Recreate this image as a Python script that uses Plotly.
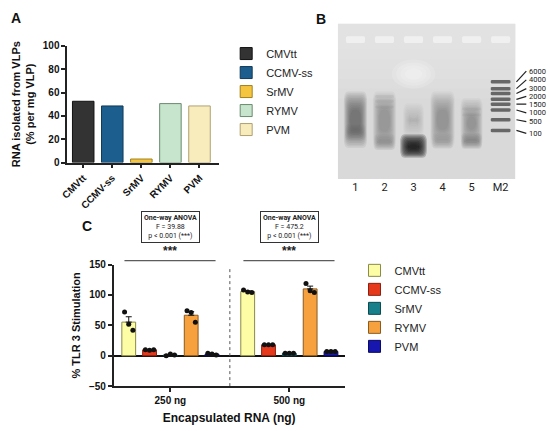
import numpy as np
import plotly.graph_objects as go

# ---------------- data ----------------
# Panel A
a_names = ["CMVtt", "CCMV-ss", "SrMV", "RYMV", "PVM"]
a_values = [52.5, 48.5, 3.0, 50.5, 48.5]
a_colors = ["#333333", "#1c5e8e", "#f5c53f", "#c6e5cc", "#f8ecbd"]
a_lines = ["#111111", "#123a58", "#a08020", "#6a8a70", "#b0a070"]

# Panel B (gel)
gel_lanes = ["1", "2", "3", "4", "5", "M2"]
ladder_sizes = ["6000", "4000", "3000", "2000", "1500", "1000", "500", "100"]
ladder_band_pos = [78, 85, 90, 96, 101, 107, 117, 128]
ladder_label_pos = [67, 76, 85, 93, 101, 110, 119, 131]

# Panel C
c_names = ["CMVtt", "CCMV-ss", "SrMV", "RYMV", "PVM"]
c_groups = ["250 ng", "500 ng"]
rep_250 = [[72, 52, 42], [10, 9, 10], [0, 3, 1], [74, 71, 55], [4, 3, 1]]
rep_500 = [[108, 105, 104], [18, 18, 18], [4, 4, 4], [119, 107, 104], [7, 7, 7]]
c_colors = ["#fdfda6", "#e6391c", "#17808a", "#f7a13e", "#1717b0"]
c_lines = ["#8a8a4a", "#8a2010", "#0b4a50", "#8a5a20", "#0a0a60"]
anova_F = ["39.88", "475.2"]

W, H = 550, 431
def px(x):
    return x / W
def py(y):
    return 1 - y / H

fig = go.Figure()

# ---------------- Panel A ----------------
for n, v, c, lc in zip(a_names, a_values, a_colors, a_lines):
    fig.add_trace(go.Bar(x=[n], y=[v], name=n, width=0.74,
                         marker=dict(color=c, line=dict(color=lc, width=1)),
                         xaxis="x", yaxis="y", legend="legend"))

# ---------------- Panel C ----------------
slot = 0.175
jit = [-0.035, 0.0, 0.035]
for i, (n, c, lc) in enumerate(zip(c_names, c_colors, c_lines)):
    reps = [rep_250[i], rep_500[i]]
    means = [float(np.mean(r)) for r in reps]
    sems = [float(np.std(r, ddof=1) / np.sqrt(len(r))) for r in reps]
    xs = [g + (i - 2) * slot for g in range(len(c_groups))]
    fig.add_trace(go.Bar(x=xs, y=means, name=n, width=0.116,
                         marker=dict(color=c, line=dict(color=lc, width=1)),
                         error_y=dict(type="data", array=sems, arrayminus=[0, 0],
                                      symmetric=False, color="#111", thickness=1, width=3),
                         xaxis="x2", yaxis="y2", legend="legend2"))
    dx, dy = [], []
    for g, r in enumerate(reps):
        for j, val in enumerate(r):
            dx.append(xs[g] + jit[j])
            dy.append(val)
    fig.add_trace(go.Scatter(x=dx, y=dy, mode="markers", showlegend=False,
                             marker=dict(color="#111", size=5),
                             xaxis="x2", yaxis="y2", hoverinfo="skip"))

# ---------------- Panel B (gel drawing) ----------------
fig.add_trace(go.Scatter(x=[1], y=[10], mode="markers", marker=dict(opacity=0),
                         showlegend=False, xaxis="x3", yaxis="y3", hoverinfo="skip"))

shapes = []
def rrect(x0, x1, y0, y1, rx, ry, color, op):
    p = (f"M{x0+rx},{y0} L{x1-rx},{y0} Q{x1},{y0} {x1},{y0+ry} L{x1},{y1-ry} "
         f"Q{x1},{y1} {x1-rx},{y1} L{x0+rx},{y1} Q{x0},{y1} {x0},{y1-ry} "
         f"L{x0},{y0+ry} Q{x0},{y0} {x0+rx},{y0} Z")
    shapes.append(dict(type="path", path=p, xref="x3", yref="y3",
                       fillcolor=color, opacity=op, line=dict(width=0)))

# background
shapes.append(dict(type="rect", xref="x3", yref="y3", x0=0.39, x1=6.51, y0=18, y1=178,
                   fillcolor="#d9d9d9", line=dict(width=0)))
for k in range(6):
    shapes.append(dict(type="rect", xref="x3", yref="y3", x0=0.39, x1=6.51, y0=18,
                       y1=95 - k * 10, fillcolor="#ececec", opacity=0.12, line=dict(width=0)))
# glow near lane 3
for r in [0.75, 0.6, 0.45, 0.3]:
    shapes.append(dict(type="circle", xref="x3", yref="y3", x0=3 - r, x1=3 + r,
                       y0=70 - r * 20, y1=70 + r * 20, fillcolor="#ffffff",
                       opacity=0.15, line=dict(width=0)))
# wells
for ln in range(1, 7):
    rrect(ln - 0.33, ln + 0.33, 31, 38, 0.05, 2, "#f2f2f2", 0.85)

# smears: lane, top, bottom, half-width, strength
smears = [(1, 88, 146, 0.40, 0.08), (2, 88, 148, 0.40, 0.045), (3, 100, 135, 0.36, 0.02),
          (4, 88, 146, 0.42, 0.04), (5, 95, 146, 0.38, 0.04)]
for ln, t, b, hw, s in smears:
    for k in range(12):
        ins = k * 0.02
        iy = k * 1.7
        rrect(ln - hw + ins, ln + hw - ins, t + iy, b - iy, 0.15, 10, "#3a3a3a", s)
# lower bands
for ln, yc, s in [(2, 140, 0.05), (4, 139, 0.035), (5, 139, 0.07), (1, 130, 0.035)]:
    for k in range(6):
        rrect(ln - 0.36 + k * 0.025, ln + 0.36 - k * 0.025, yc - 8 + k * 1.2,
              yc + 8 - k * 1.2, 0.12, 5, "#3a3a3a", s)
# lane 2 / 5 faint bands
for ln, yy in [(2, 93), (2, 98), (2, 104), (5, 106), (5, 112)]:
    rrect(ln - 0.33, ln + 0.33, yy - 1.5, yy + 1.5, 0.08, 1.5, "#444", 0.06)
# lane 3 dark blob
for k in range(9):
    rrect(3 - 0.46 + k * 0.035, 3 + 0.46 - k * 0.035, 132 + k * 1.3, 156 - k * 1.1,
          0.16, 8, "#111111", 0.22)
# ladder bands
for yy in ladder_band_pos:
    rrect(6 - 0.34, 6 + 0.34, yy - 1.8, yy + 1.8, 0.05, 1, "#4a4a4a", 0.8)
# ladder pointer lines
for yb, yl in zip(ladder_band_pos, ladder_label_pos):
    shapes.append(dict(type="line", xref="paper", yref="y3", x0=px(516), x1=px(526),
                       y0=yb, y1=yl, line=dict(color="#222", width=1.2)))

# ---------------- Panel C decorations ----------------
shapes.append(dict(type="line", xref="x2", yref="y2", x0=0.5, x1=0.5, y0=-50, y1=145,
                   line=dict(color="#555", width=1, dash="dot")))
for g in range(2):
    shapes.append(dict(type="line", xref="x2", yref="paper", x0=g - 0.386, x1=g + 0.38,
                       y0=py(262), y1=py(262), line=dict(color="#333", width=1)))

annotations = []
for g, F in enumerate(anova_F):
    annotations.append(dict(xref="x2", yref="paper", x=g, y=py(252), text="***",
                            showarrow=False, font=dict(family="Liberation Sans", size=12,
                                                       color="#222", weight="bold")))
    annotations.append(dict(xref="x2", yref="paper", x=g, y=py(227.5),
                            text=f"<b>One-way ANOVA</b><br>F = {F}<br>p &lt; 0.001 (***)",
                            showarrow=False, bordercolor="#333", borderwidth=1, borderpad=2,
                            font=dict(family="Roboto", size=7, color="#222")))
for s, yl in zip(ladder_sizes, ladder_label_pos):
    annotations.append(dict(xref="paper", yref="y3", x=px(527), y=yl, text=s, xanchor="left",
                            showarrow=False, font=dict(family="Roboto", size=7.5, color="#222")))
for lab, x, y in [("A", 9, 12), ("B", 318, 13), ("C", 81, 226)]:
    annotations.append(dict(xref="paper", yref="paper", x=px(x), y=py(y), text=lab,
                            showarrow=False, xanchor="center", yanchor="middle",
                            font=dict(family="Liberation Sans", size=14, color="#111",
                                      weight="bold")))

bold_tick = dict(family="Liberation Sans", size=10, color="#111", weight="bold")
axis_common = dict(showline=True, linecolor="#222", linewidth=1.5, ticks="outside",
                   ticklen=4, tickwidth=1.5, tickcolor="#222", showgrid=False,
                   zeroline=False, tickfont=bold_tick)

fig.update_layout(
    width=W, height=H, margin=dict(l=0, r=0, t=0, b=0),
    paper_bgcolor="white", plot_bgcolor="white", barmode="overlay",
    font=dict(family="Liberation Sans"),
    xaxis=dict(domain=[px(61), px(215)], anchor="y", range=[-0.55, 4.68],
               tickangle=-45, **axis_common),
    yaxis=dict(domain=[py(161), py(41)], anchor="x", range=[0, 100],
               tickvals=[0, 20, 40, 60, 80, 100],
               title=dict(text="RNA isolated from VLPs<br>(% per mg VLP)", standoff=6,
                          font=dict(family="Liberation Sans", size=11, color="#111",
                                    weight="bold")),
               **axis_common),
    xaxis2=dict(domain=[px(108), px(342)], anchor="y2", range=[-0.477, 1.465],
                tickvals=[0, 1], ticktext=c_groups,
                title=dict(text="Encapsulated RNA (ng)", standoff=9,
                           font=dict(family="Liberation Sans", size=12, color="#111",
                                     weight="bold")),
                **axis_common),
    yaxis2=dict(domain=[py(391), py(266)], anchor="x2", range=[-50, 150],
                tickvals=[-50, 0, 50, 100, 150],
                title=dict(text="% TLR 3 Stimulation", standoff=6,
                           font=dict(family="Liberation Sans", size=11, color="#111",
                                     weight="bold")),
                **{k: v for k, v in axis_common.items() if k != "zeroline"},
                zeroline=True, zerolinecolor="#111", zerolinewidth=1.5),
    xaxis3=dict(domain=[px(335), px(515)], anchor="y3", range=[0.39, 6.51],
                tickvals=[1, 2, 3, 4, 5, 6], ticktext=gel_lanes, showline=False,
                showgrid=False, zeroline=False, ticks="",
                tickfont=dict(family="Roboto", size=11, color="#222")),
    yaxis3=dict(domain=[py(178), py(18)], anchor="x3", range=[178, 18], visible=False),
    legend=dict(x=px(222), y=py(34), xanchor="left", yanchor="top",
                font=dict(family="Liberation Sans", size=11, color="#222"),
                bgcolor="rgba(0,0,0,0)", itemwidth=30),
    legend2=dict(x=px(352), y=py(257), xanchor="left", yanchor="top",
                 font=dict(family="Liberation Sans", size=11, color="#222"),
                 bgcolor="rgba(0,0,0,0)", itemwidth=30),
    shapes=shapes, annotations=annotations,
)

fig.write_html("out.html", config={"displayModeBar": False},
               post_script="document.body.style.margin='0';document.body.style.padding='0';")
